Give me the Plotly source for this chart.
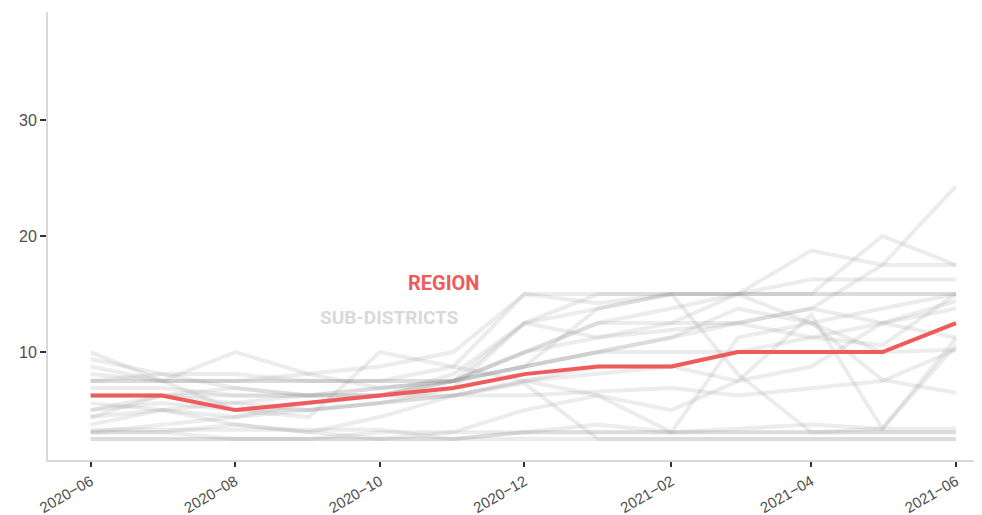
import plotly.graph_objects as go

months = ["2020-06-01", "2020-07-01", "2020-08-01", "2020-09-01", "2020-10-01", "2020-11-01",
          "2020-12-01", "2021-01-01", "2021-02-01", "2021-03-01", "2021-04-01", "2021-05-01",
          "2021-06-01"]

region = [6.25, 6.25, 5.0, 5.6, 6.25, 6.9, 8.1, 8.75, 8.75, 10.0, 10.0, 10.0, 12.5]

sub_districts = [
    [2.5, 2.5, 2.5, 2.5, 2.5, 2.5, 2.5, 2.5, 2.5, 2.5, 2.5, 2.5, 2.5],
    [2.5, 2.5, 2.5, 2.5, 2.5, 2.5, 3.1, 3.1, 3.1, 3.1, 3.1, 3.1, 3.1],
    [3.1, 3.1, 2.5, 2.5, 3.1, 3.1, 3.1, 3.75, 3.1, 3.4, 3.75, 3.4, 3.4],
    [3.3, 3.3, 3.3, 3.3, 3.3, 2.5, 3.1, 3.1, 3.1, 3.1, 3.1, 3.1, 3.1],
    [7.5, 7.5, 7.5, 7.5, 7.5, 8.75, 15.0, 15.0, 15.0, 15.0, 15.0, 15.0, 15.0],
    [7.5, 7.5, 7.5, 7.5, 7.5, 7.5, 12.5, 11.25, 12.5, 12.5, 11.25, 10.6, 15.0],
    [6.25, 6.25, 6.25, 6.25, 6.25, 6.25, 6.25, 6.6, 6.9, 6.25, 6.9, 7.5, 10.2],
    [8.75, 7.5, 10.0, 8.1, 6.9, 7.5, 8.75, 10.0, 11.25, 12.5, 13.75, 12.5, 11.25],
    [5.0, 6.25, 5.0, 4.4, 10.0, 8.75, 7.5, 6.25, 5.0, 7.5, 13.2, 3.4, 11.2],
    [10.0, 7.5, 5.0, 5.0, 5.6, 6.9, 12.5, 15.0, 15.0, 15.0, 18.75, 17.5, 17.5],
    [4.4, 6.25, 6.9, 6.25, 6.25, 8.1, 12.5, 13.75, 15.0, 15.0, 15.0, 20.0, 17.5],
    [5.6, 5.0, 4.4, 5.6, 6.25, 7.5, 8.75, 13.75, 15.0, 8.1, 3.1, 3.4, 10.6],
    [6.9, 6.9, 6.25, 6.25, 6.9, 7.5, 10.0, 12.5, 13.75, 15.0, 12.5, 7.6, 6.5],
    [3.75, 5.0, 3.75, 3.1, 4.4, 6.25, 7.3, 2.5, 2.5, 2.5, 2.5, 2.5, 2.5],
    [3.1, 3.1, 3.75, 3.1, 2.5, 3.1, 5.0, 6.25, 3.1, 11.25, 12.5, 10.0, 12.5],
    [3.1, 3.75, 4.4, 5.0, 5.6, 6.25, 7.5, 8.1, 8.75, 10.0, 11.25, 12.5, 13.75],
    [7.5, 8.1, 8.1, 7.5, 7.5, 7.5, 8.75, 10.0, 10.0, 10.0, 10.0, 10.0, 10.2],
    [8.1, 7.5, 7.5, 8.1, 8.75, 10.0, 15.0, 14.2, 15.0, 15.0, 15.0, 15.0, 15.0],
    [5.0, 5.6, 5.0, 5.6, 6.25, 7.5, 10.0, 12.5, 12.5, 15.0, 16.25, 16.25, 16.25],
    [9.4, 8.1, 6.9, 6.25, 6.25, 7.5, 10.0, 11.25, 11.9, 12.5, 13.75, 17.5, 24.3],
    [6.25, 6.25, 5.6, 5.0, 5.6, 6.25, 7.5, 8.75, 8.75, 7.5, 8.75, 12.5, 14.4],
    [4.4, 5.0, 5.6, 6.25, 6.9, 7.5, 8.75, 10.0, 11.25, 13.75, 12.5, 13.75, 15.0],
]

fig = go.Figure()

for vals in sub_districts:
    fig.add_trace(go.Scatter(x=months, y=vals, mode="lines",
                             line=dict(color="rgba(150,150,150,0.18)", width=4),
                             hoverinfo="skip", showlegend=False))

fig.add_trace(go.Scatter(x=months, y=region, mode="lines",
                         line=dict(color="#ef5a5a", width=4),
                         showlegend=False))

label_font = "Roboto, sans-serif"
fig.add_annotation(x="2020-10-28", y=15.95, text="<b>REGION</b>", showarrow=False,
                   font=dict(family=label_font, size=20, color="#ef5a5a"))
fig.add_annotation(x="2020-10-05", y=13.0, text="<b>SUB-DISTRICTS</b>", showarrow=False,
                   font=dict(family=label_font, size=19, color="#d9d9d9"))

# page body has an 8px margin, so the figure is sized to fit the window
fig.update_layout(
    width=974, height=507,
    margin=dict(l=40, r=0, t=4, b=55),
    paper_bgcolor="white", plot_bgcolor="white",
    font=dict(family="Liberation Sans, Arial, sans-serif", color="#4d4d4d"),
)

fig.update_xaxes(
    type="date", range=["2020-05-14", "2021-06-12"], automargin=False,
    tickvals=["2020-06-01", "2020-08-01", "2020-10-01", "2020-12-01", "2021-02-01",
              "2021-04-01", "2021-06-01"],
    tickformat="%Y\u2212%m", tickangle=-30, tickfont=dict(size=15, color="#4d4d4d"),
    showgrid=False, zeroline=False,
    showline=True, linecolor="#d9d9d9", linewidth=2,
    ticks="outside", ticklen=5, tickwidth=2, tickcolor="#333333",
)
fig.update_yaxes(
    range=[0.7, 39.3], tickvals=[10, 20, 30], automargin=False,
    tickfont=dict(size=16, color="#4d4d4d"),
    showgrid=False, zeroline=False,
    showline=True, linecolor="#d9d9d9", linewidth=2,
    ticks="outside", ticklen=6, tickwidth=2, tickcolor="#333333",
)

fig.write_html("out.html")
